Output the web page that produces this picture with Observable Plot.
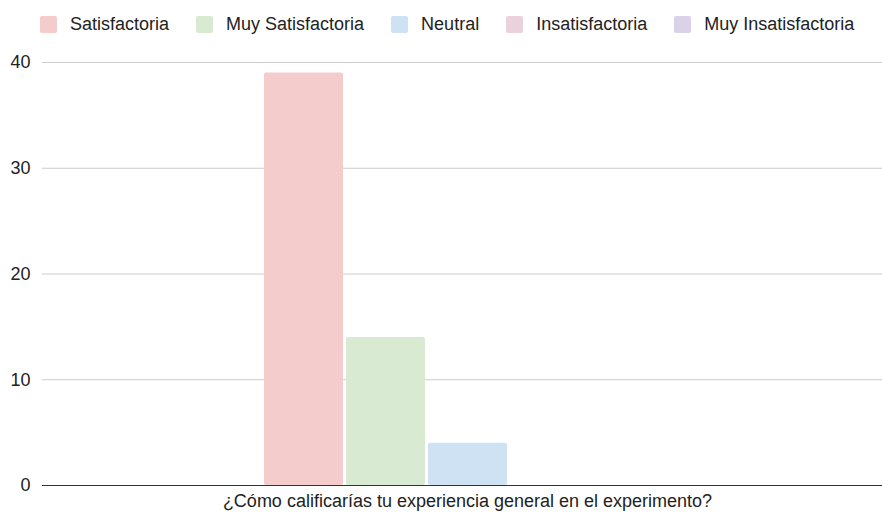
<!DOCTYPE html>
<html><head><meta charset="utf-8">
<script src="https://cdn.jsdelivr.net/npm/d3@7"></script>
<script src="https://cdn.jsdelivr.net/npm/@observablehq/plot@0.6"></script>
<style>
body{margin:0;background:#fff;font-family:"Liberation Sans",Arial,sans-serif}
#wrap{position:relative;width:882px;height:512px}
#legend{position:absolute;top:14px;left:40px;display:flex;align-items:center;font-size:18px;color:#222;white-space:nowrap}
.item{display:flex;align-items:center;margin-right:27px}
.sw{width:17px;height:17px;border-radius:2px;margin-right:13px}
</style></head><body>
<div id="wrap"><div id="legend"></div></div>
<script>
const series = ["Satisfactoria", "Muy Satisfactoria", "Neutral", "Insatisfactoria", "Muy Insatisfactoria"];
const values = [39, 14, 4, 0, 0];
const colors = ["#f4cccc", "#d9ead3", "#cfe2f3", "#ead1dc", "#d9d2e9"];
const yTicks = [0, 10, 20, 30, 40];
const category = "¿Cómo calificarías tu experiencia general en el experimento?";

const data = series.map((s, i) => ({series: s, value: values[i]}));

const legend = document.getElementById("legend");
series.forEach((s, i) => {
  const it = document.createElement("div");
  it.className = "item";
  const sw = document.createElement("div");
  sw.className = "sw";
  sw.style.background = colors[i];
  const t = document.createElement("span");
  t.textContent = s;
  it.appendChild(sw); it.appendChild(t);
  legend.appendChild(it);
});

const chart = Plot.plot({
  width: 882,
  height: 512,
  marginLeft: 42,
  marginRight: 0,
  marginTop: 62,
  marginBottom: 27,
  style: {fontFamily: "'Liberation Sans', Arial, sans-serif", fontSize: "18px", color: "#222", background: "#fff"},
  x: {domain: series, range: [264, 674], padding: 0, axis: null},
  y: {domain: [0, 40], axis: null},
  color: {domain: series, range: colors},
  marks: [
    Plot.gridY(yTicks.filter(d => d > 0), {stroke: "#cccccc", strokeOpacity: 1}),
    Plot.axisY(yTicks, {tickSize: 0, tickPadding: 12, fontSize: 18, fill: "#222", label: null}),
    Plot.ruleY([0], {stroke: "#333", strokeWidth: 1.2}),
    Plot.barY(data, {x: "series", y: "value", fill: "series", insetRight: 3, rx: 2}),
    Plot.text([category], {frameAnchor: "bottom", dy: 21, dx: 5, fontSize: 18, fill: "#222"})
  ]
});
document.getElementById("wrap").appendChild(chart);
</script>
</body></html>
